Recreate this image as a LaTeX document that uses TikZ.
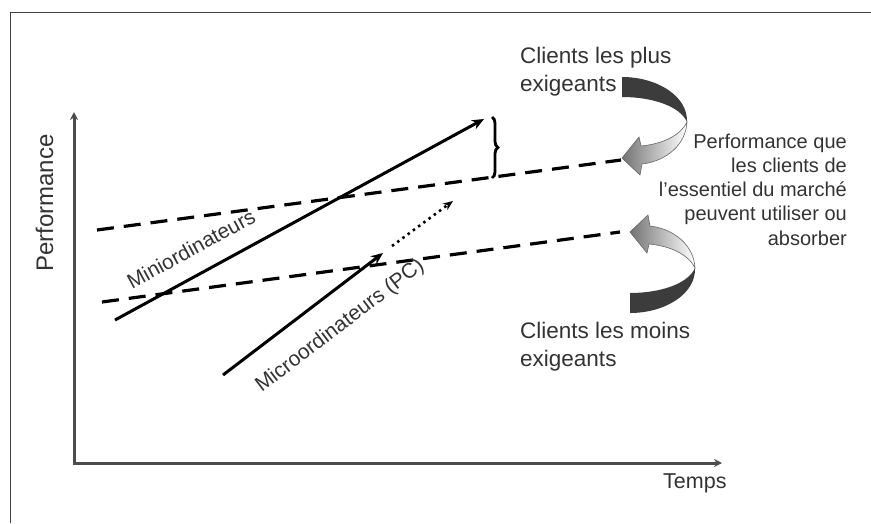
\documentclass[tikz,border=0pt]{standalone}
\usepackage{fontspec}
\setmainfont{Liberation Sans}
\usetikzlibrary{arrows.meta,decorations.pathreplacing}

\definecolor{txtgray}{HTML}{333333}
\definecolor{ribbondark}{HTML}{3C3C3C}

% twisted ribbon arrow, tip at (0,0), loop to the right
\newcommand{\bendarrow}{%
    \shade[left color=black!55, right color=white, draw=black!60, line width=0.6pt]
        (0,0) -- (18,-17) -- (20,-6)
        .. controls (45,-3) and (64,14) .. (65,36)
        .. controls (58,22) and (40,14) .. (19,12)
        -- (17,21) -- cycle;
    \fill[ribbondark]
        (65,36) .. controls (66,62) and (35,81) .. (0,81)
        -- (0,61) .. controls (30,61) and (58,52) .. (65,36) -- cycle;
}

\begin{document}
\begin{tikzpicture}[x=1pt, y=-1pt,
    axis/.style={line width=3pt, draw=black!70, {Stealth[length=8pt,width=8pt]}-{Stealth[length=8pt,width=8pt]}},
    trend/.style={line width=3pt, -{Stealth[length=12pt,width=10pt]}},
    need/.style={line width=3.2pt, dash pattern=on 17pt off 10pt},
    lbl/.style={text=txtgray, inner sep=0pt}]

    % picture size and frame
    \useasboundingbox (0,0) rectangle (871,523);
    \draw[black!75, line width=1pt] (871,12) -- (10,12) -- (10,523);

    % axes
    \coordinate (O) at (74,463);
    \coordinate (ytop) at (74,112);
    \coordinate (xend) at (722,463);
    \draw[axis] (ytop) -- (O) -- (xend);
    \node[lbl, rotate=90, anchor=base west, font=\fontsize{24}{28}\selectfont] (perf) at (53,272) {Performance};
    \node[lbl, anchor=base west, font=\fontsize{21.5}{26}\selectfont] (temps) at (663,488) {Temps};

    % what the market can absorb
    \coordinate (hiA) at (97,230);
    \coordinate (hiB) at (621,160);
    \coordinate (loA) at (102,302);
    \coordinate (loB) at (620,232);
    \draw[need] (hiA) -- (hiB);
    \draw[need] (loA) -- (loB);

    % technology trajectories
    \coordinate (miniA) at (115,320);
    \coordinate (miniB) at (484,119);
    \coordinate (microA) at (223,375);
    \coordinate (microB) at (383,253);
    \coordinate (dotA) at (392,246);
    \coordinate (dotB) at (453,201);
    \draw[trend] (miniA) -- (miniB)
        node[lbl, sloped, pos=0.24, above=17pt, font=\fontsize{20.8}{24}\selectfont] (mini) {Miniordinateurs};
    \draw[trend] (microA) -- (microB)
        node[lbl, sloped, pos=0.61, below=21pt, font=\fontsize{21}{24}\selectfont] (micro) {Microordinateurs (PC)};
    \draw[line width=2.6pt, dash pattern=on 2.5pt off 4pt, -{Stealth[length=10pt,width=8pt]}] (dotA) -- (dotB);

    % gap between offer and demand
    \coordinate (bt) at (492,117);
    \coordinate (bb) at (492,178);
    \draw[decorate, decoration={brace, amplitude=6pt}, line width=2.8pt] (bt) -- (bb);

    % curved arrows
    \begin{scope}[shift={(622,158)}, yscale=-1]
        \bendarrow
    \end{scope}
    \begin{scope}[shift={(630,232)}]
        \bendarrow
    \end{scope}

    % texts on the right
    \node[lbl, align=left, anchor=north west, font=\fontsize{22.5}{28}\selectfont] (high) at (520,47) {Clients les plus\\exigeants};
    \node[lbl, align=left, anchor=north west, font=\fontsize{22.5}{28}\selectfont] (low) at (520,322) {Clients les moins\\exigeants};
    \node[lbl, align=right, anchor=north east, font=\fontsize{20}{24.25}\selectfont] (core) at (847,133.5) {Performance que\\les clients de\\l'essentiel du marché\\peuvent utiliser ou\\absorber};

\end{tikzpicture}
\end{document}
